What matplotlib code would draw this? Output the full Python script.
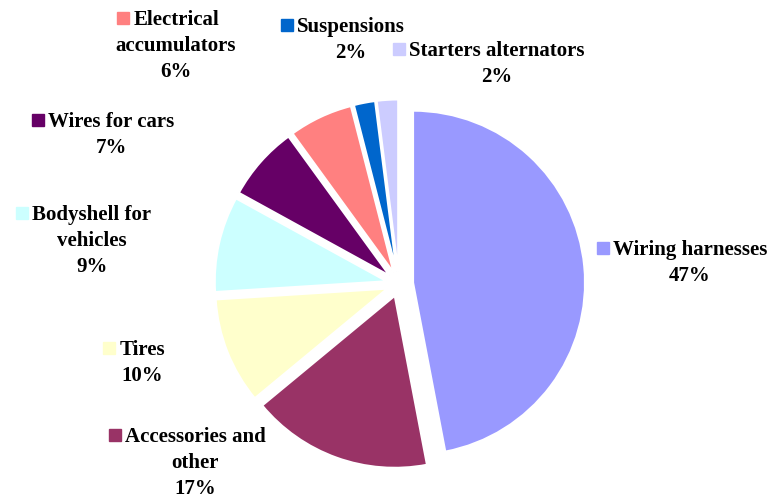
import matplotlib
matplotlib.use("Agg")
import matplotlib.pyplot as plt

# share of each product group, clockwise from 12 o'clock
categories = ["Wiring harnesses", "Accessories and\nother", "Tires",
              "Bodyshell for\nvehicles", "Wires for cars",
              "Electrical\naccumulators", "Suspensions",
              "Starters alternators"]
shares = [47, 17, 10, 9, 7, 6, 2, 2]
colors = ["#9999FF", "#993366", "#FFFFCC", "#CCFFFF", "#660066",
          "#FF8080", "#0066CC", "#CCCCFF"]

# label placement in pixels (centre x, top-line centre y)
label_pos = [(690, 248), (195, 435), (142, 348), (92, 213), (111, 120),
             (176, 18), (351, 25), (497, 49)]

W, H = 770, 500
CX, CY, R = 399, 284, 172

plt.rcParams["font.family"] = ["Liberation Serif", "DejaVu Serif"]

fig = plt.figure(figsize=(W / 100, H / 100), dpi=100)
ax = fig.add_axes([0, 0, 1, 1])

explode = [0.082] + [0.073] * (len(shares) - 1)
ax.pie(shares, colors=colors, startangle=90, counterclock=False,
       explode=explode, radius=1.0, center=(0, 0),
       wedgeprops=dict(edgecolor="white", linewidth=1.5))
ax.set_xlim(-CX / R, (W - CX) / R)
ax.set_ylim(-(H - CY) / R, CY / R)
ax.set_aspect("auto")
ax.axis("off")

fs = 15
fpx = fs * 100 / 72
renderer = fig.canvas.get_renderer()
for name, val, col, (lx, ly) in zip(categories, shares, colors, label_pos):
    top = ly - 0.4 * fpx
    ax.text(lx / W, 1 - top / H, f"{name}\n{val}%", transform=fig.transFigure,
            ha="center", va="top", fontsize=fs,
            fontweight="bold", linespacing=1.42, color="black")
    # measure the first line to put the colour key just left of it
    first = name.split("\n")[0]
    t = fig.text(0, 0, first, fontsize=fs, fontweight="bold")
    w = t.get_window_extent(renderer).width
    t.remove()
    sx = lx - w / 2 - 10
    ax.plot([sx / W], [1 - ly / H], marker="s", markersize=9,
            color=col, linestyle="none", transform=fig.transFigure,
            clip_on=False)

fig.savefig("out.png", dpi=100)
